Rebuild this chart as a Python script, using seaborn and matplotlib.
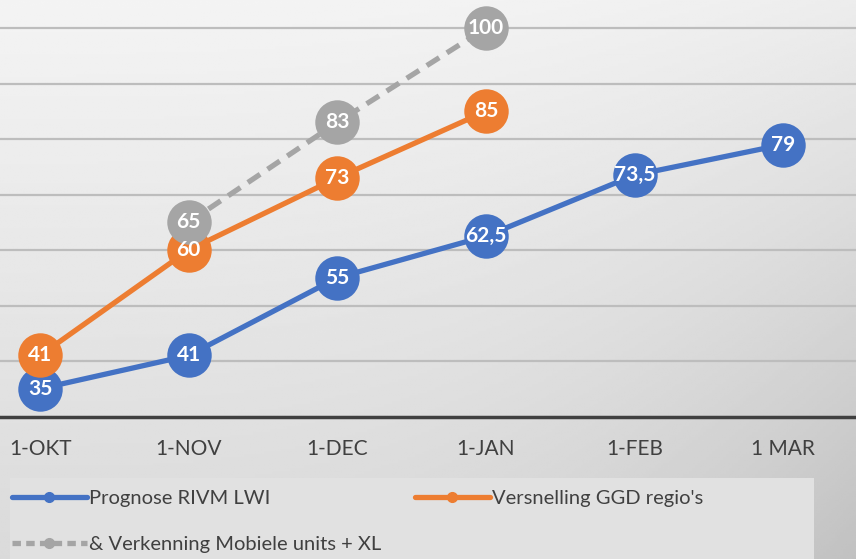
import numpy as np
import pandas as pd
import matplotlib
matplotlib.use("Agg")
import matplotlib.pyplot as plt
import seaborn as sns
from matplotlib.lines import Line2D
from matplotlib.patches import Rectangle

categories = ["1-OKT", "1-NOV", "1-DEC", "1-JAN", "1-FEB", "1 MAR"]
rivm = [35, 41, 55, 62.5, 73.5, 79]
ggd = [41, 60, 73, 85, None, None]
mobiel = [None, 65, 83, 100, None, None]
series_names = ["Prognose RIVM LWI", "Versnelling GGD regio's",
                "& Verkenning Mobiele units + XL"]
colors = ["#4472C4", "#ED7D31", "#A5A5A5"]
DASH = (0, (2.8, 1.7))

sns.set_theme(style="white")
plt.rcParams["font.family"] = ["Lato", "DejaVu Sans"]

W, H = 856, 559
fig = plt.figure(figsize=(W / 100, H / 100), dpi=100)

# background gradient
bg = fig.add_axes([0, 0, 1, 1], zorder=-10)
yy, xx = np.mgrid[0:1:200j, 0:1:300j]
val = 0.955 - 0.10 * yy - 0.07 * (xx ** 3) * (0.4 + yy)
bg.imshow(val, cmap="gray", vmin=0, vmax=1, aspect="auto", extent=[0, 1, 0, 1],
          origin="upper")
bg.set_axis_off()
# legend panel
fig.patches.append(Rectangle((10 / W, 0), 804 / W, 1 - 478 / H,
                             transform=fig.transFigure, facecolor="#e1e1e1",
                             edgecolor="none", zorder=-5))

ax = fig.add_axes([0, 0.2549, 1, 0.7451])
ax.patch.set_alpha(0)

x = np.arange(len(categories))
df = pd.DataFrame({"x": x, series_names[0]: rivm, series_names[1]: ggd,
                   series_names[2]: mobiel})

order = [(1, False), (2, True), (0, False)]
for idx, dashed in order:
    name = series_names[idx]
    sub = df[["x", name]].dropna()
    sns.lineplot(data=sub, x="x", y=name, ax=ax, color=colors[idx],
                 linewidth=3.8, marker="o", markersize=32,
                 markeredgewidth=0, linestyle=DASH if dashed else "-",
                 zorder=3 + idx, legend=False)
    for xi, v in zip(sub["x"], sub[name]):
        s = (f"{v:g}").replace(".", ",")
        ax.text(xi, v, s, ha="center", va="center", color="white",
                fontsize=15, fontweight="bold", zorder=10 + idx)

ax.set_xlim(-0.27, 5.49)
ax.set_ylim(30, 105.05)
ax.set_yticks(np.arange(40, 101, 10))
ax.set_yticklabels([])
ax.yaxis.grid(True, color="#bdbdbd", linewidth=1.6)
ax.set_axisbelow(True)
ax.set_xticks(x)
ax.set_xticklabels(categories, fontsize=15, color="#404040")
ax.tick_params(axis="x", length=0, pad=16)
ax.tick_params(axis="y", length=0)
ax.set_xlabel("")
ax.set_ylabel("")
for sp in ["top", "right", "left"]:
    ax.spines[sp].set_visible(False)
ax.spines["bottom"].set_color("#404040")
ax.spines["bottom"].set_linewidth(2.5)

h = [
    Line2D([], [], color=colors[0], lw=3.8, marker="o", markersize=7),
    Line2D([], [], color=colors[1], lw=3.8, marker="o", markersize=7),
    Line2D([], [], color=colors[2], lw=3.8, marker="o", markersize=7,
           linestyle=(0, (1.6, 1.0))),
]
# column-wise fill -> reorder so rows read blue, orange / gray
leg = fig.legend([h[0], h[2], h[1]],
                 [series_names[0], series_names[2], series_names[1]],
                 loc="upper left",
                 bbox_to_anchor=(12 / W, 1 - 490 / H),
                 ncol=2, frameon=False,
                 fontsize=14.5, handlelength=3.7, handletextpad=0.1,
                 labelspacing=1.45, borderaxespad=0, borderpad=0,
                 columnspacing=1.7, labelcolor="#404040")

fig.savefig("out.png", dpi=100)
